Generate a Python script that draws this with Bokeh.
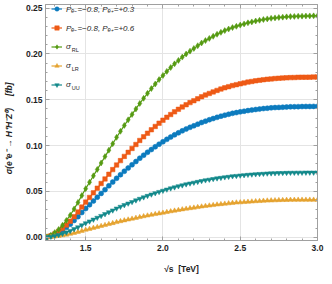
from bokeh.plotting import figure
from bokeh.models import (Range1d, LinearAxis, Legend, LegendItem, Label, FixedTicker,
                          CustomLabelingPolicy)
from bokeh.embed import file_html
from bokeh.resources import INLINE

# sqrt(s) in TeV
sqrt_s = [1.250, 1.275, 1.300, 1.325, 1.350, 1.375, 1.400, 1.425, 1.450, 1.475,
          1.500, 1.525, 1.550, 1.575, 1.600, 1.625, 1.650, 1.675, 1.700, 1.725,
          1.750, 1.775, 1.800, 1.825, 1.850, 1.875, 1.900, 1.925, 1.950, 1.975,
          2.000, 2.025, 2.050, 2.075, 2.100, 2.125, 2.150, 2.175, 2.200, 2.225,
          2.250, 2.275, 2.300, 2.325, 2.350, 2.375, 2.400, 2.425, 2.450, 2.475,
          2.500, 2.525, 2.550, 2.575, 2.600, 2.625, 2.650, 2.675, 2.700, 2.725,
          2.750, 2.775, 2.800, 2.825, 2.850, 2.875, 2.900, 2.925, 2.950, 2.975,
          3.000]

# P(e-)=-0.8, P(e+)=+0.3  [fb]
sig_p03 = [0.0003, 0.0013, 0.0030, 0.0050, 0.0077, 0.0108, 0.0142, 0.0182, 0.0224, 0.0269,
           0.0313, 0.0354, 0.0395, 0.0437, 0.0478, 0.0519, 0.0561, 0.0602, 0.0643, 0.0682,
           0.0720, 0.0756, 0.0791, 0.0826, 0.0862, 0.0895, 0.0927, 0.0957, 0.0987, 0.1015,
           0.1042, 0.1068, 0.1093, 0.1117, 0.1139, 0.1161, 0.1181, 0.1199, 0.1216, 0.1234,
           0.1252, 0.1267, 0.1282, 0.1295, 0.1308, 0.1321, 0.1332, 0.1342, 0.1352, 0.1360,
           0.1368, 0.1375, 0.1382, 0.1388, 0.1394, 0.1399, 0.1404, 0.1408, 0.1412, 0.1415,
           0.1417, 0.1419, 0.1421, 0.1423, 0.1424, 0.1425, 0.1426, 0.1427, 0.1427, 0.1428,
           0.1428]

# P(e-)=-0.8, P(e+)=+0.6  [fb]
sig_p06 = [0.0004, 0.0016, 0.0036, 0.0062, 0.0094, 0.0132, 0.0174, 0.0223, 0.0275, 0.0329,
           0.0383, 0.0434, 0.0484, 0.0535, 0.0586, 0.0636, 0.0687, 0.0738, 0.0788, 0.0836,
           0.0882, 0.0926, 0.0969, 0.1012, 0.1056, 0.1096, 0.1135, 0.1173, 0.1209, 0.1244,
           0.1277, 0.1309, 0.1339, 0.1368, 0.1396, 0.1422, 0.1446, 0.1469, 0.1490, 0.1511,
           0.1533, 0.1552, 0.1569, 0.1586, 0.1602, 0.1617, 0.1631, 0.1643, 0.1655, 0.1665,
           0.1674, 0.1684, 0.1693, 0.1700, 0.1707, 0.1713, 0.1719, 0.1724, 0.1728, 0.1732,
           0.1735, 0.1738, 0.1740, 0.1742, 0.1743, 0.1745, 0.1746, 0.1746, 0.1747, 0.1748,
           0.1748]

# sigma_RL [fb]
sig_rl = [0.0005, 0.0022, 0.0050, 0.0085, 0.0130, 0.0183, 0.0240, 0.0308, 0.0380, 0.0455,
          0.0530, 0.0600, 0.0670, 0.0740, 0.0810, 0.0880, 0.0950, 0.1020, 0.1090, 0.1156,
          0.1220, 0.1281, 0.1340, 0.1400, 0.1460, 0.1516, 0.1570, 0.1622, 0.1672, 0.1720,
          0.1766, 0.1810, 0.1852, 0.1892, 0.1930, 0.1966, 0.2000, 0.2031, 0.2060, 0.2090,
          0.2120, 0.2146, 0.2170, 0.2193, 0.2215, 0.2236, 0.2255, 0.2272, 0.2288, 0.2302,
          0.2315, 0.2328, 0.2340, 0.2350, 0.2360, 0.2368, 0.2376, 0.2383, 0.2389, 0.2394,
          0.2398, 0.2402, 0.2405, 0.2408, 0.2410, 0.2412, 0.2413, 0.2414, 0.2415, 0.2416,
          0.2416]

# sigma_LR [fb]
sig_lr = [0.0001, 0.0003, 0.0008, 0.0013, 0.0020, 0.0027, 0.0036, 0.0046, 0.0057, 0.0068,
          0.0080, 0.0090, 0.0101, 0.0111, 0.0122, 0.0132, 0.0143, 0.0153, 0.0164, 0.0174,
          0.0183, 0.0192, 0.0201, 0.0210, 0.0219, 0.0228, 0.0236, 0.0244, 0.0252, 0.0259,
          0.0266, 0.0274, 0.0282, 0.0289, 0.0296, 0.0303, 0.0310, 0.0316, 0.0322, 0.0328,
          0.0334, 0.0340, 0.0345, 0.0350, 0.0356, 0.0360, 0.0365, 0.0369, 0.0374, 0.0378,
          0.0380, 0.0383, 0.0386, 0.0389, 0.0392, 0.0394, 0.0397, 0.0399, 0.0401, 0.0402,
          0.0404, 0.0405, 0.0406, 0.0407, 0.0407, 0.0408, 0.0408, 0.0408, 0.0408, 0.0408,
          0.0408]

# sigma_UU [fb]
sig_uu = [0.0002, 0.0006, 0.0015, 0.0025, 0.0038, 0.0053, 0.0069, 0.0089, 0.0109, 0.0131,
          0.0153, 0.0173, 0.0193, 0.0213, 0.0233, 0.0253, 0.0273, 0.0293, 0.0314, 0.0333,
          0.0351, 0.0368, 0.0385, 0.0403, 0.0420, 0.0436, 0.0452, 0.0467, 0.0481, 0.0495,
          0.0508, 0.0521, 0.0534, 0.0545, 0.0557, 0.0567, 0.0578, 0.0587, 0.0596, 0.0605,
          0.0614, 0.0622, 0.0629, 0.0636, 0.0643, 0.0649, 0.0655, 0.0660, 0.0666, 0.0670,
          0.0674, 0.0678, 0.0682, 0.0685, 0.0688, 0.0691, 0.0693, 0.0696, 0.0698, 0.0699,
          0.0701, 0.0702, 0.0703, 0.0704, 0.0704, 0.0705, 0.0705, 0.0706, 0.0706, 0.0706,
          0.0706]

x_major = [1.5, 2.0, 2.5, 3.0]
x_minor = [1.3, 1.4, 1.6, 1.7, 1.8, 1.9, 2.1, 2.2, 2.3, 2.4, 2.6, 2.7, 2.8, 2.9]
y_major = [0.00, 0.05, 0.10, 0.15, 0.20, 0.25]
y_minor = [0.01, 0.02, 0.03, 0.04, 0.06, 0.07, 0.08, 0.09, 0.11, 0.12, 0.13, 0.14,
           0.16, 0.17, 0.18, 0.19, 0.21, 0.22, 0.23, 0.24]
x_labels = {1.5: "1.5", 2.0: "2.0", 2.5: "2.5", 3.0: "3.0"}
y_labels = {0.0: "0.00", 0.05: "0.05", 0.1: "0.10", 0.15: "0.15", 0.2: "0.20", 0.25: "0.25"}

legend_labels = ["P\u2091\u208b=\u22120.8, P\u2091\u208a=+0.3",
                 "P\u2091\u208b=\u22120.8, P\u2091\u208a=+0.6",
                 "\u03c3", "\u03c3", "\u03c3"]
legend_subs = [None, None, "RL", "LR", "UU"]

C_BLUE = "#0C7BBE"
C_ORANGE = "#EE5A16"
C_GREEN = "#559A12"
C_YELLOW = "#E5A330"
C_TEAL = "#13898B"
FRAME = "#A0A0A0"
TXT = "#1E1E1E"
FONT = "Liberation Sans"

W, H = 324, 276
ML, MR, MT, MB = 41, 7, 3, 34
FH = H - MT - MB

p = figure(width=W, height=H, output_backend="svg", toolbar_location=None,
           x_range=Range1d(1.24, 3.0), y_range=Range1d(-0.0036, 0.254),
           min_border_left=ML, min_border_right=MR, min_border_top=MT, min_border_bottom=MB,
           x_axis_location=None, y_axis_location=None)
p.background_fill_color = "white"
p.border_fill_color = "white"
p.outline_line_color = FRAME
p.outline_line_width = 1

xt = FixedTicker(ticks=x_major, minor_ticks=x_minor)
yt = FixedTicker(ticks=y_major, minor_ticks=y_minor)

hide_labels = CustomLabelingPolicy(code="""
for (const i of indices) { indices.unset(i) }
return indices
""")


def style_axis(ax):
    ax.axis_line_color = FRAME
    ax.major_tick_line_color = FRAME
    ax.minor_tick_line_color = FRAME
    ax.major_tick_in = 4
    ax.major_tick_out = 0
    ax.minor_tick_in = 2
    ax.minor_tick_out = 0
    ax.major_label_text_font = FONT
    ax.major_label_text_font_style = "bold"
    ax.major_label_text_font_size = "8.5px"
    ax.major_label_text_color = TXT
    ax.axis_label_text_font = FONT
    ax.axis_label_text_color = TXT
    ax.axis_label_text_font_size = "8.5px"


xb = LinearAxis(ticker=xt, axis_label="\u221as \u00a0[TeV]")
style_axis(xb)
xb.major_label_standoff = 4
xb.axis_label_standoff = 10
xb.axis_label_text_font_style = "bold"
xb.major_label_overrides = x_labels
p.add_layout(xb, "below")

yl = LinearAxis(ticker=yt,
                axis_label="\u03c3(e\u207ae\u207b \u2192 H\u207aH\u207bZ\u2070) \u00a0\u00a0\u00a0\u00a0[fb]"
                           + "\u00a0" * 5)
style_axis(yl)
yl.major_label_standoff = 3
yl.axis_label_standoff = 9
yl.axis_label_text_font_style = "bold italic"
yl.axis_label_text_font_size = "8.5px"
yl.major_label_overrides = y_labels
p.add_layout(yl, "left")

# frame ticks on the top and right sides (no labels, no extra space)
xa = LinearAxis(ticker=xt, major_label_policy=hide_labels)
style_axis(xa)
xa.major_label_text_font_size = "1px"
xa.major_label_standoff = 0
p.add_layout(xa, "above")
yr = LinearAxis(ticker=yt, major_label_policy=hide_labels)
style_axis(yr)
yr.major_label_text_font_size = "1px"
yr.major_label_standoff = 0
p.add_layout(yr, "right")

p.xgrid.ticker = xt
p.ygrid.ticker = yt
for g in (p.xgrid, p.ygrid):
    g.grid_line_color = "#E4E4E4"
    g.grid_line_width = 1

series = [
    (sig_p03, C_BLUE, "circle", 5.0),
    (sig_p06, C_ORANGE, "square", 4.5),
    (sig_rl, C_GREEN, "diamond", 6.0),
    (sig_lr, C_YELLOW, "triangle", 5.0),
    (sig_uu, C_TEAL, "inverted_triangle", 5.0),
]

items = []
for (ys, col, mk, sz), lab in zip(series, legend_labels):
    r_line = p.line(sqrt_s, ys, line_color=col, line_width=1.2)
    r_mk = p.scatter(sqrt_s, ys, marker=mk, size=sz, fill_color=col, line_color=col, line_width=0.5)
    items.append(LegendItem(label=lab, renderers=[r_line, r_mk]))

GH, SP, PAD_X, TOP_OFF = 13, 6, 6, 1
n = len(items)
leg_h = n * GH + (n - 1) * SP
legend = Legend(items=items, location=(PAD_X, FH - TOP_OFF - leg_h), padding=0, margin=0,
                glyph_width=11, glyph_height=GH, label_height=GH, spacing=SP,
                label_standoff=4, border_line_color=None, background_fill_alpha=0,
                label_text_font=FONT, label_text_font_size="8px",
                label_text_font_style="italic", label_text_color=TXT)
p.add_layout(legend)

# subscripts of the sigma entries (frame-relative screen positions)
for i, sub in enumerate(legend_subs):
    if sub is None:
        continue
    yc = FH - TOP_OFF - GH / 2 - i * (GH + SP)
    p.add_layout(Label(x=PAD_X + 11 + 4 + 5.2, y=yc - 2.5, text=sub, x_units="screen", y_units="screen",
                       text_font=FONT, text_font_size="5.5px", text_color=TXT,
                       text_baseline="middle", text_align="left"))

open("out.html", "w").write(file_html(p, INLINE))
